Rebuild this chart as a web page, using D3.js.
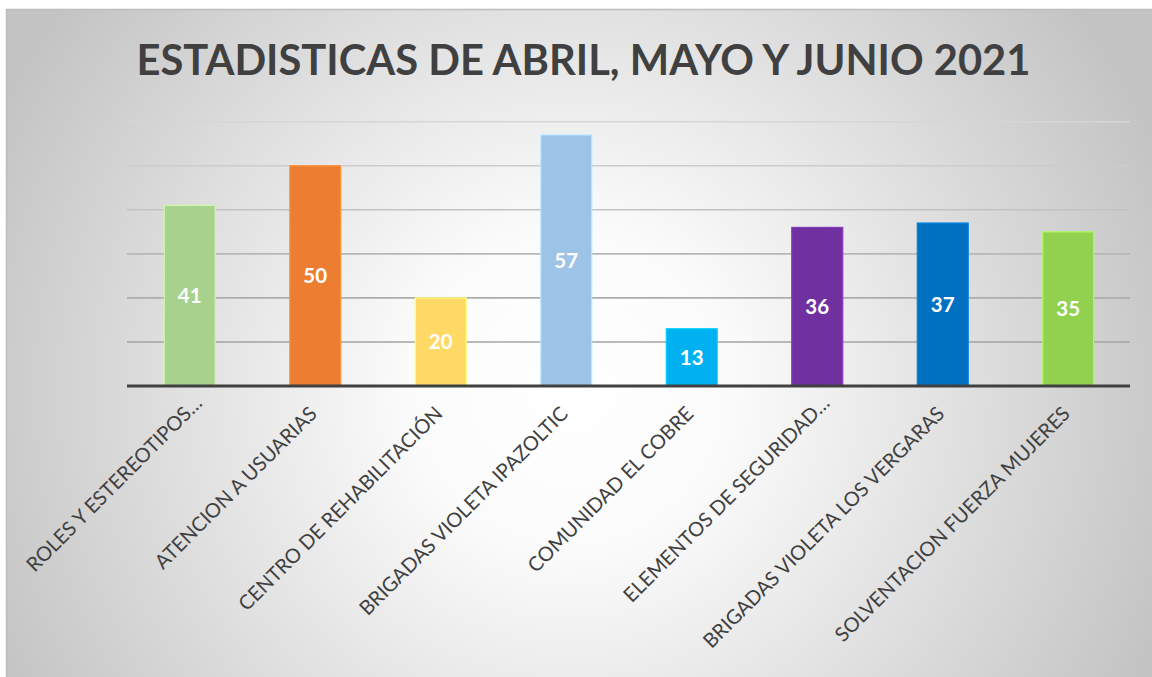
<!DOCTYPE html>
<html>
<head>
<meta charset="utf-8">
<script src="https://cdn.jsdelivr.net/npm/d3@7"></script>
<style>
  html, body { margin: 0; padding: 0; background: #ffffff; }
  svg { display: block; }
</style>
</head>
<body>
<svg id="chart" width="1152" height="677"></svg>
<script>
const title = "ESTADISTICAS DE ABRIL, MAYO Y JUNIO 2021";
const categories = [
  "ROLES Y ESTEREOTIPOS…",
  "ATENCION A USUARIAS",
  "CENTRO DE REHABILITACIÓN",
  "BRIGADAS VIOLETA IPAZOLTIC",
  "COMUNIDAD EL COBRE",
  "ELEMENTOS DE SEGURIDAD…",
  "BRIGADAS VIOLETA LOS VERGARAS",
  "SOLVENTACION FUERZA MUJERES"
];
const values = [41, 50, 20, 57, 13, 36, 37, 35];
const barColors = ["#a9d18e", "#ed7d31", "#ffd966", "#9dc3e6", "#00b0f0", "#7030a0", "#0070c0", "#92d050"];
const gridTicks = [10, 20, 30, 40, 50, 60];

const svg = d3.select("#chart");
const W = 1152, H = 677;

const defs = svg.append("defs");
const rg = defs.append("radialGradient")
  .attr("id", "bg")
  .attr("gradientUnits", "userSpaceOnUse")
  .attr("cx", 570).attr("cy", 390).attr("r", 640);
rg.append("stop").attr("offset", "0").attr("stop-color", "#ffffff");
rg.append("stop").attr("offset", "0.25").attr("stop-color", "#fbfbfb");
rg.append("stop").attr("offset", "1").attr("stop-color", "#c3c3c3");

svg.append("rect")
  .attr("x", 6).attr("y", 9).attr("width", W - 6).attr("height", H - 9)
  .attr("fill", "url(#bg)");
svg.append("line").attr("x1", 6).attr("x2", W).attr("y1", 9.5).attr("y2", 9.5)
  .attr("stroke", "#bdbdbd").attr("stroke-width", 1.5);
svg.append("line").attr("x1", 6.5).attr("x2", 6.5).attr("y1", 9).attr("y2", H)
  .attr("stroke", "#bdbdbd").attr("stroke-width", 1.5);

const x = d3.scaleBand()
  .domain(categories)
  .range([127, 1131])
  .paddingInner(0.594)
  .paddingOuter(0.297);

const y = d3.scaleLinear().domain([0, 60]).range([386, 121.7]);

const gridColor = d3.scaleLinear().domain([10, 60]).range(["#a3a3a3", "#d6d6d6"]);

// gridlines
svg.append("g").selectAll("line")
  .data(gridTicks)
  .join("line")
  .attr("x1", 127).attr("x2", 1130)
  .attr("y1", d => y(d)).attr("y2", d => y(d))
  .attr("stroke", d => gridColor(d))
  .attr("stroke-width", 1.6);

// bars
svg.append("g").selectAll("rect")
  .data(values)
  .join("rect")
  .attr("x", (d, i) => x(categories[i]))
  .attr("width", x.bandwidth())
  .attr("y", d => y(d))
  .attr("height", d => y(0) - y(d))
  .attr("fill", (d, i) => barColors[i])
  .attr("stroke", (d, i) => d3.color(barColors[i]).brighter(0.5))
  .attr("stroke-width", 1.2);

// value labels
svg.append("g").selectAll("text")
  .data(values)
  .join("text")
  .attr("x", (d, i) => x(categories[i]) + x.bandwidth() / 2)
  .attr("y", d => (y(d) + y(0)) / 2)
  .attr("dy", "0.36em")
  .attr("text-anchor", "middle")
  .attr("font-family", "Lato, 'Open Sans', sans-serif")
  .attr("font-weight", "bold")
  .attr("font-size", 20.5)
  .attr("fill", "#ffffff")
  .text(d => d);

// baseline
svg.append("line")
  .attr("x1", 127).attr("x2", 1130)
  .attr("y1", y(0)).attr("y2", y(0))
  .attr("stroke", "#404040").attr("stroke-width", 3.2);

// category labels
svg.append("g").selectAll("text")
  .data(categories)
  .join("text")
  .attr("transform", d => `translate(${x(d) + x.bandwidth() / 2 + 3},${415}) rotate(-45)`)
  .attr("x", d => d.endsWith("…") ? 15 : 0)
  .attr("text-anchor", "end")
  .attr("font-family", "Lato, 'Open Sans', sans-serif")
  .attr("font-size", 20)
  .attr("fill", "#404040")
  .text(d => d);

// title
svg.append("text")
  .attr("x", 583.5).attr("y", 75)
  .attr("text-anchor", "middle")
  .attr("font-family", "Lato, 'Open Sans', sans-serif")
  .attr("font-weight", "bold")
  .attr("font-size", 41.7)
  .attr("fill", "#404040")
  .text(title);
</script>
</body>
</html>
